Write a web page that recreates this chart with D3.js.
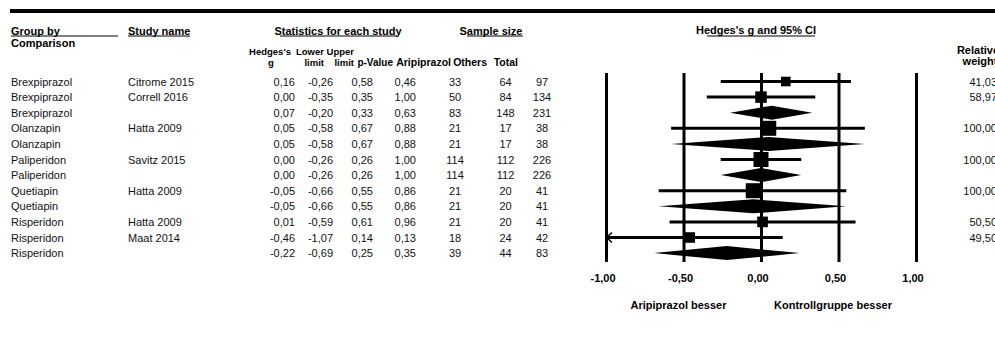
<!DOCTYPE html>
<html>
<head>
<meta charset="utf-8">
<script src="https://cdn.jsdelivr.net/npm/d3@7"></script>
<style>
  body { margin: 0; background: #fff; }
  svg { display: block; font-family: Arial, "Liberation Sans", sans-serif; }
  .bold { font-weight: bold; }
</style>
</head>
<body>
<script>
// rows of the forest plot (empty study name = subgroup summary)
var groups = ["Brexpiprazol", "Brexpiprazol", "Brexpiprazol", "Olanzapin", "Olanzapin",
  "Paliperidon", "Paliperidon", "Quetiapin", "Quetiapin", "Risperidon", "Risperidon", "Risperidon"];
var studies = ["Citrome 2015", "Correll 2016", "", "Hatta 2009", "", "Savitz 2015", "",
  "Hatta 2009", "", "Hatta 2009", "Maat 2014", ""];
var hedgesG = [0.16, 0.00, 0.07, 0.05, 0.05, 0.00, 0.00, -0.05, -0.05, 0.01, -0.46, -0.22];
var lowerLimit = [-0.26, -0.35, -0.20, -0.58, -0.58, -0.26, -0.26, -0.66, -0.66, -0.59, -1.07, -0.69];
var upperLimit = [0.58, 0.35, 0.33, 0.67, 0.67, 0.26, 0.26, 0.55, 0.55, 0.61, 0.14, 0.25];
var pValue = [0.46, 1.00, 0.63, 0.88, 0.88, 1.00, 1.00, 0.86, 0.86, 0.96, 0.13, 0.35];
var nAripiprazol = [33, 50, 83, 21, 21, 114, 114, 21, 21, 21, 18, 39];
var nOthers = [64, 84, 148, 17, 17, 112, 112, 20, 20, 20, 24, 44];
var nTotal = [97, 134, 231, 38, 38, 226, 226, 41, 41, 41, 42, 83];
var relWeight = [41.03, 58.97, null, 100.00, null, 100.00, null, 100.00, null, 50.50, 49.50, null];
var tickValues = [-1, -0.5, 0, 0.5, 1];

var rows = groups.map(function(g, i) {
  return {group: g, study: studies[i], g: hedgesG[i], lo: lowerLimit[i], hi: upperLimit[i],
    p: pValue[i], a: nAripiprazol[i], o: nOthers[i], t: nTotal[i], w: relWeight[i]};
});

var de = d3.formatLocale({decimal: ",", thousands: ".", grouping: [3], currency: ["", " €"], minus: "-"});
var f2 = de.format(".2f");

var svg = d3.select("body").append("svg")
  .attr("width", 995).attr("height", 340);

// thick top rule
svg.append("rect").attr("x", 10).attr("y", 9).attr("width", 985).attr("height", 4).attr("fill", "#000");

var x = d3.scaleLinear().domain([-1, 1]).range([606, 916]);
var y = d3.scaleBand().domain(d3.range(rows.length)).range([73.7, 73.7 + 15.6 * rows.length]);
function cy(i) { return y(i) + y.bandwidth() / 2; }

// header texts
function head(txt, xx, yy, anchor, size) {
  svg.append("text").attr("class", "bold").attr("x", xx).attr("y", yy)
    .attr("text-anchor", anchor || "start").attr("font-size", size || 11).text(txt);
}
head("Group by", 11, 35);
head("Comparison", 11, 47);
head("Study name", 128, 35);
head("Statistics for each study", 338, 35, "middle");
head("Sample size", 491, 35, "middle");
head("Hedges's g and 95% CI", 756, 34, "middle");
head("Hedges's", 270, 55, "middle", 9.5);
head("g", 271, 65.5, "middle", 9.5);
head("Lower", 324, 55, "end", 9.5);
head("limit", 324, 65.5, "end", 9.5);
head("Upper", 354, 55, "end", 9.5);
head("limit", 354, 65.5, "end", 9.5);
head("p-Value", 393, 65.5, "end", 10);
head("Aripiprazol", 451, 65.5, "end", 10.5);
head("Others", 487, 65.5, "end", 10.5);
head("Total", 518, 65.5, "end", 10.5);
head("Relative", 978, 54, "middle");
head("weight", 980, 65, "middle");

// header underlines
[[11, 118], [128, 190], [280, 397], [467, 523], [707, 815]].forEach(function(u) {
  svg.append("line").attr("x1", u[0]).attr("x2", u[1]).attr("y1", 36).attr("y2", 36)
    .attr("stroke", "#000").attr("stroke-width", 1);
});

// table columns
var cols = [
  {x: 11, anchor: "start", v: function(d) { return d.group; }},
  {x: 128, anchor: "start", v: function(d) { return d.study; }},
  {x: 295, anchor: "end", v: function(d) { return f2(d.g); }},
  {x: 333, anchor: "end", v: function(d) { return f2(d.lo); }},
  {x: 373, anchor: "end", v: function(d) { return f2(d.hi); }},
  {x: 416, anchor: "end", v: function(d) { return f2(d.p); }},
  {x: 455, anchor: "middle", v: function(d) { return d.a; }},
  {x: 505.5, anchor: "middle", v: function(d) { return d.o; }},
  {x: 542, anchor: "middle", v: function(d) { return d.t; }},
  {x: 997, anchor: "end", v: function(d) { return d.w == null ? "" : f2(d.w); }}
];
cols.forEach(function(c) {
  svg.append("g").selectAll("text")
    .data(rows)
    .enter().append("text")
      .attr("x", c.x)
      .attr("y", function(d, i) { return cy(i) + 4; })
      .attr("text-anchor", c.anchor)
      .attr("font-size", 11)
      .attr("fill", "#111")
      .text(c.v);
});

// vertical reference lines + tick labels
var axis = d3.axisBottom(x).tickValues(tickValues).tickFormat(f2)
  .tickSizeInner(-(262 - 73)).tickSizeOuter(0).tickPadding(11.7);
var ax = svg.append("g").attr("transform", "translate(0,262)").call(axis);
ax.select(".domain").remove();
ax.selectAll(".tick line").attr("stroke", "#000").attr("stroke-width", 3);
ax.selectAll(".tick text").attr("class", "bold").attr("font-size", 11)
  .attr("font-family", "Arial, 'Liberation Sans', sans-serif").attr("fill", "#000").attr("dx", -3.5);

// CI lines for studies
var studyRows = rows.map(function(d, i) { return Object.assign({i: i}, d); })
  .filter(function(d) { return d.study !== ""; });
var sumRows = rows.map(function(d, i) { return Object.assign({i: i}, d); })
  .filter(function(d) { return d.study === ""; });

var plot = svg.append("g");
plot.selectAll("line.ci")
  .data(studyRows)
  .enter().append("line")
    .attr("class", "ci")
    .attr("x1", function(d) { return x(Math.max(d.lo, -1)); })
    .attr("x2", function(d) { return x(Math.min(d.hi, 1)); })
    .attr("y1", function(d) { return cy(d.i); })
    .attr("y2", function(d) { return cy(d.i); })
    .attr("stroke", "#000").attr("stroke-width", 3);

// arrow where CI runs off the left edge
plot.selectAll("path.arrow")
  .data(studyRows.filter(function(d) { return d.lo < -1; }))
  .enter().append("path")
    .attr("class", "arrow")
    .attr("d", function(d) {
      var x0 = x(-1), y0 = cy(d.i);
      return "M" + (x0 + 6) + "," + (y0 - 5) + "L" + (x0 + 0.5) + "," + y0 + "L" + (x0 + 6) + "," + (y0 + 5);
    })
    .attr("fill", "none").attr("stroke", "#000").attr("stroke-width", 1.5);

// squares sized by relative weight
plot.selectAll("rect.pt")
  .data(studyRows)
  .enter().append("rect")
    .attr("class", "pt")
    .attr("x", function(d) { return x(d.g) - 0.75 * Math.sqrt(d.w); })
    .attr("y", function(d) { return cy(d.i) - 0.75 * Math.sqrt(d.w); })
    .attr("width", function(d) { return 1.5 * Math.sqrt(d.w); })
    .attr("height", function(d) { return 1.5 * Math.sqrt(d.w); })
    .attr("fill", "#000");

// summary diamonds
plot.selectAll("path.dia")
  .data(sumRows)
  .enter().append("path")
    .attr("class", "dia")
    .attr("d", function(d) {
      var yy = cy(d.i), h = 7;
      return "M" + x(d.lo) + "," + yy + "L" + x(d.g) + "," + (yy - h) +
        "L" + x(d.hi) + "," + yy + "L" + x(d.g) + "," + (yy + h) + "Z";
    })
    .attr("fill", "#000");

// direction labels
head("Aripiprazol besser", 678.5, 309, "middle");
head("Kontrollgruppe besser", 833, 309, "middle");
</script>
</body>
</html>
